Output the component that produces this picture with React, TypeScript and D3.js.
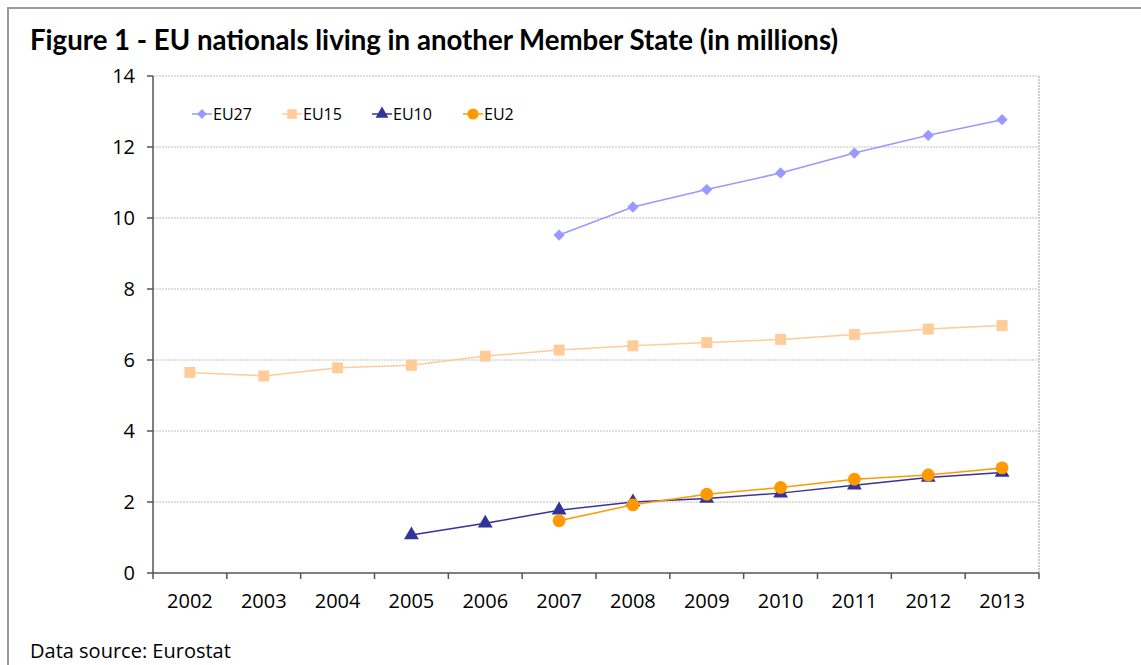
import React from "react";
import * as d3 from "d3";

const years = ["2002","2003","2004","2005","2006","2007","2008","2009","2010","2011","2012","2013"];
const yTicks = [0, 2, 4, 6, 8, 10, 12, 14];
const eu27: (number | null)[] = [null, null, null, null, null, 9.52, 10.31, 10.8, 11.27, 11.83, 12.33, 12.77];
const eu15: (number | null)[] = [5.65, 5.55, 5.78, 5.85, 6.11, 6.28, 6.4, 6.49, 6.58, 6.72, 6.87, 6.97];
const eu10: (number | null)[] = [null, null, null, 1.07, 1.4, 1.77, 2.0, 2.1, 2.25, 2.47, 2.69, 2.83];
const eu2: (number | null)[] = [null, null, null, null, null, 1.47, 1.92, 2.22, 2.41, 2.64, 2.76, 2.96];

const seriesNames = ["EU27", "EU15", "EU10", "EU2"];
const seriesData = [eu27, eu15, eu10, eu2];
const colors = ["#9999FF", "#FFCC99", "#333399", "#FF9900"];
const shapes = [d3.symbolSquare, d3.symbolSquare, d3.symbolTriangle, d3.symbolCircle];
const rotations = [45, 0, 0, 0];
const sizes = [64, 120, 95, 130];

const W = 1141, H = 665;
const left = 153, right = 1039, top = 76, bottom = 573;
const font = "'Open Sans', 'Noto Sans', sans-serif";

export default function App() {
  const x = d3.scaleBand<string>().domain(years).range([left, right]);
  const y = d3.scaleLinear().domain([0, 14]).range([bottom, top]);
  const cx = (yr: string) => (x(yr) as number) + x.bandwidth() / 2;

  const lineGen = d3.line<number | null>()
    .defined(d => d !== null)
    .x((_, i) => cx(years[i]))
    .y(d => y(d as number));

  const boundaries = years.map(yr => x(yr) as number).concat([right]);
  const legendX = [192, 282, 372, 463];

  return (
    <svg width={W} height={H} style={{ position: "absolute", left: 0, top: 0, background: "#fff" }}>
      <rect x={8} y={8} width={W + 20} height={H + 20} fill="#fff" stroke="#999" strokeWidth={2} />
      <text x={30} y={50} fontFamily="Lato, 'Noto Sans', sans-serif" fontWeight="bold" fontSize={28} textLength={808} lengthAdjust="spacingAndGlyphs" fill="#000">
        Figure 1 - EU nationals living in another Member State (in millions)
      </text>
      {yTicks.filter(t => t > 0).map(t => (
        <line key={t} x1={left} x2={right} y1={y(t)} y2={y(t)} stroke="#c0c0c0" strokeWidth={1} strokeDasharray="2,1" />
      ))}
      <line x1={right} x2={right} y1={top} y2={bottom} stroke="#c0c0c0" strokeWidth={1.5} strokeDasharray="2,1" />
      <line x1={left} x2={left} y1={top} y2={bottom} stroke="#555" strokeWidth={1.5} />
      <line x1={left} x2={right} y1={bottom} y2={bottom} stroke="#555" strokeWidth={1.5} />
      {yTicks.map(t => (
        <g key={t}>
          <line x1={left - 6} x2={left} y1={y(t)} y2={y(t)} stroke="#555" strokeWidth={1.5} />
          <text x={135} y={y(t) + 7} textAnchor="end" fontFamily={font} fontSize={20} fill="#000">{t}</text>
        </g>
      ))}
      {boundaries.map((b, i) => (
        <line key={i} x1={b} x2={b} y1={bottom} y2={bottom + 6} stroke="#555" strokeWidth={1.5} />
      ))}
      {years.map(yr => (
        <text key={yr} x={cx(yr)} y={608} textAnchor="middle" fontFamily={font} fontSize={20} fill="#000">{yr}</text>
      ))}
      {seriesData.map((data, si) => (
        <g key={si}>
          <path d={lineGen(data) || ""} fill="none" stroke={colors[si]} strokeWidth={1.5} />
          {data.map((v, i) => v === null ? null : (
            <path key={i} d={d3.symbol().type(shapes[si]).size(sizes[si])() || ""}
              transform={`translate(${cx(years[i])},${y(v)}) rotate(${rotations[si]})`} fill={colors[si]} />
          ))}
        </g>
      ))}
      {seriesNames.map((n, i) => (
        <g key={n}>
          <line x1={legendX[i]} x2={legendX[i] + 20} y1={114} y2={114} stroke={colors[i]} strokeWidth={1.5} />
          <path d={d3.symbol().type(shapes[i]).size(sizes[i] * 0.75)() || ""} transform={`translate(${legendX[i] + 10},114) rotate(${rotations[i]})`} fill={colors[i]} />
          <text x={legendX[i] + 21} y={120} fontFamily={font} fontSize={16} fill="#000">{n}</text>
        </g>
      ))}
      <text x={30} y={658} fontFamily={font} fontSize={20} fill="#000">Data source: Eurostat</text>
    </svg>
  );
}
